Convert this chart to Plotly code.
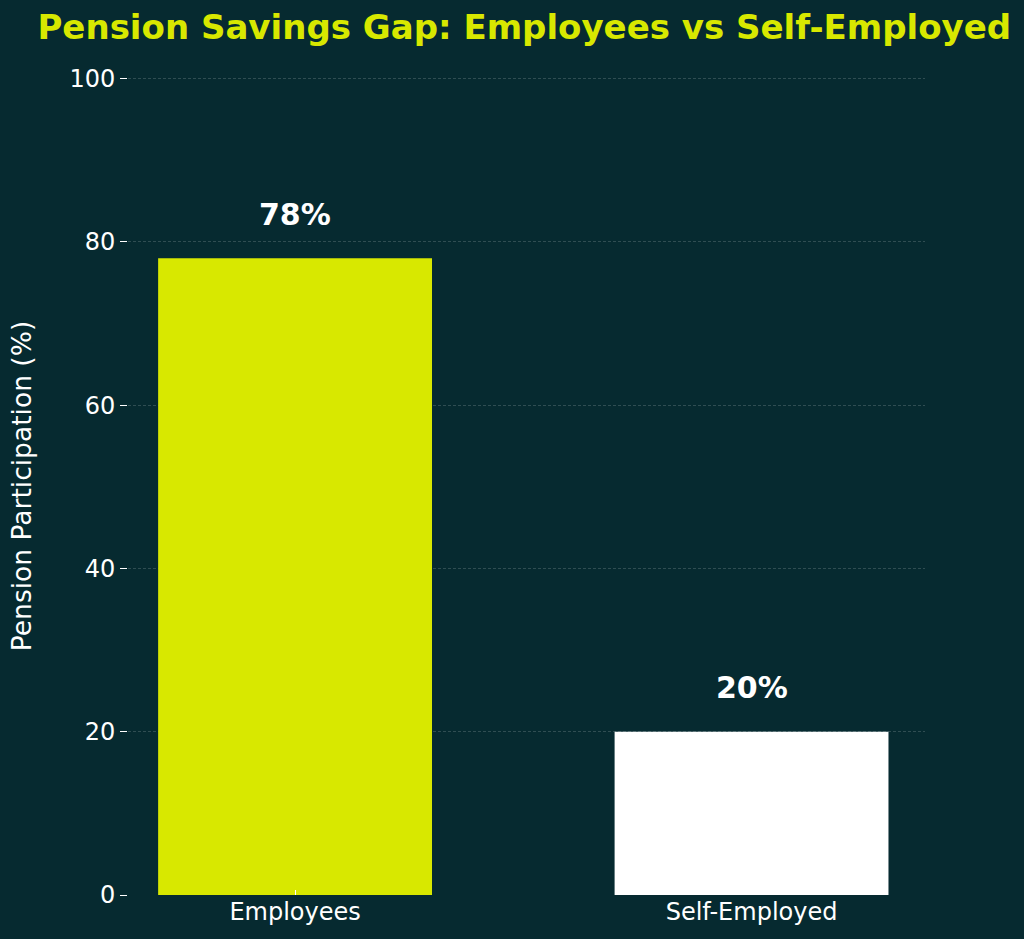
import plotly.graph_objects as go

# data
categories = ["Employees", "Self-Employed"]
participation = [78, 20]
value_labels = ["78%", "20%"]
y_ticks = [0, 20, 40, 60, 80, 100]

BG = "#062a30"
ACCENT = "#d8e800"
bar_colors = [ACCENT, "#ffffff"]
FONT = "DejaVu Sans"

fig = go.Figure()
fig.add_trace(go.Bar(
    x=categories,
    y=participation,
    marker=dict(color=bar_colors, line=dict(width=0)),
    width=0.6,
    showlegend=False,
    hoverinfo="x+y",
))

# value labels above the bars
for cat, val, txt in zip(categories, participation, value_labels):
    fig.add_annotation(
        x=cat, y=val + 3, text=f"<b>{txt}</b>",
        showarrow=False, yanchor="bottom",
        font=dict(family=FONT, size=30, color="#ffffff"),
    )

fig.update_layout(
    width=1024,
    height=939,
    paper_bgcolor=BG,
    plot_bgcolor=BG,
    margin=dict(l=128, r=99, t=77, b=44),
    title=dict(
        text="<b>Pension Savings Gap: Employees vs Self-Employed</b>",
        x=0.512, xanchor="center", y=0.971, yanchor="middle",
        font=dict(family=FONT, size=34, color=ACCENT),
    ),
    font=dict(family=FONT, color="#ffffff"),
)

fig.update_xaxes(
    range=[-0.366, 1.38],
    showgrid=False, zeroline=False, showline=False,
    ticks="inside", ticklen=5, tickcolor="#ffffff",
    tickfont=dict(family=FONT, size=24, color="#ffffff"),
)
fig.update_yaxes(
    range=[0, 100.2],
    tickvals=y_ticks,
    showgrid=True, gridcolor="rgba(255,255,255,0.17)", griddash="3px,2px", gridwidth=1,
    zeroline=False, showline=False,
    ticks="outside", ticklen=7, tickcolor="#ffffff",
    tickfont=dict(family=FONT, size=24, color="#ffffff"),
    title=dict(text="Pension Participation (%)", standoff=30,
               font=dict(family=FONT, size=26.5, color="#ffffff")),
)

# drop the default page margin so the figure fills the window
fig.write_html(
    "out.html",
    config={"displayModeBar": False},
    post_script="document.body.style.margin='0';document.body.style.background='%s';" % BG,
)
